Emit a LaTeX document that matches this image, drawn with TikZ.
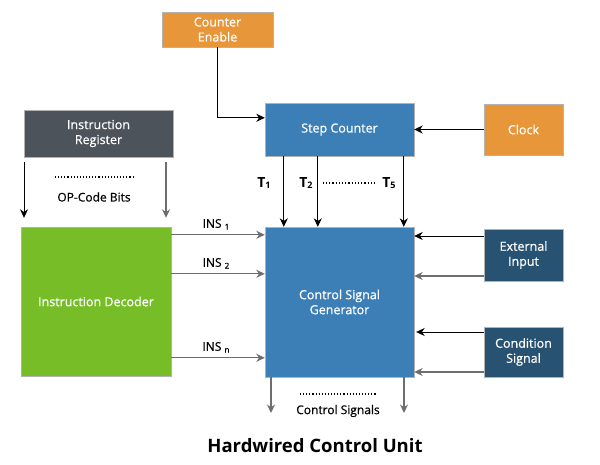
\documentclass[tikz,border=0pt]{standalone}
\usepackage{fontspec}
\setmainfont{Open Sans}
\newfontfamily\semisans[FakeBold=0.6]{Open Sans}
\usepackage{tikz}
\usetikzlibrary{arrows.meta,positioning,calc}

\definecolor{orangebox}{HTML}{E8963A}
\definecolor{bluebox}{HTML}{3B7FB6}
\definecolor{greybox}{HTML}{4C535B}
\definecolor{greenbox}{HTML}{76BD28}
\definecolor{navybox}{HTML}{285271}
\definecolor{wiregrey}{HTML}{6E6E6E}

\newcommand{\tsig}[1]{T\raisebox{-0.5pt}{\fontsize{9}{10}\selectfont #1}}

\tikzset{
    blockbox/.style={draw=white!70!black, line width=0.4pt, inner sep=0pt, text=white, align=center, font=\semisans\fontsize{12.5}{15}\selectfont},
    sig/.style={-{Stealth[length=8.5pt,width=8pt]}, line width=0.8pt, black},
    sigg/.style={sig, wiregrey, line width=1.2pt},
    lbl/.style={font=\semisans\fontsize{12}{14}\selectfont, inner sep=0pt},
    tlbl/.style={font=\bfseries\fontsize{14}{16}\selectfont, inner sep=0pt},
}

\begin{document}
\begin{tikzpicture}[x=1pt, y=-1pt]
    \useasboundingbox (0,0) rectangle (600,465);

    \node[blockbox, fill=orangebox, minimum width=111pt, minimum height=35pt] (enable) at (217.5, 29.5) {Counter\\Enable};
    \node[blockbox, fill=bluebox, minimum width=149pt, minimum height=53pt] (stepc) at (339.5, 129.5) {Step Counter};
    \node[blockbox, fill=orangebox, minimum width=79pt, minimum height=51pt] (clock) at (523.5, 129.5) {Clock};
    \node[blockbox, fill=greybox, minimum width=149pt, minimum height=47pt] (ireg) at (98.5, 133.5) {Instruction\\Register};
    \node[blockbox, fill=greenbox, minimum width=150pt, minimum height=149pt] (idec) at (96, 301.5) {Instruction Decoder};
    \node[blockbox, fill=bluebox, minimum width=149pt, minimum height=150pt] (csgen) at (339.5, 302) {Control Signal\\Generator};
    \node[blockbox, fill=navybox, minimum width=79pt, minimum height=52pt] (extin) at (523.5, 255) {External\\Input};
    \node[blockbox, fill=navybox, minimum width=79pt, minimum height=50pt] (condsig) at (523.5, 352) {Condition\\Signal};

    % step counter inputs
    \draw[sig] (enable.south) |- ([yshift=-15pt]stepc.north west);
    \draw[sig] (clock.west) -- (stepc.east);

    % timing signals
    \foreach \dx in {19, 53, 139}
        \draw[sig] ([xshift=\dx pt]stepc.south west) -- ([xshift=\dx pt]csgen.north west);
    \node[tlbl] (t1) at (264, 183) {\tsig{1}};
    \node[tlbl] (t2) at (306, 183) {\tsig{2}};
    \node[tlbl] (t5) at (389, 183) {\tsig{5}};
    \draw[dotted, line width=1.2pt] ([xshift=10pt]t2.east) -- ([xshift=-8pt]t5.west);

    % op-code bits
    \coordinate (irl) at (24, 162);
    \coordinate (irr) at (166, 162);
    \draw[sig] (irl) -- ([yshift=9pt]irl |- idec.north);
    \draw[sigg] (irr) -- ([yshift=9pt]irr |- idec.north);
    \draw[dotted, line width=1.1pt] (55, 177) -- (133, 177);
    \node[lbl] (opbits) at (94, 197) {OP-Code Bits};

    % decoder outputs
    \foreach \dy/\sub in {8/1, 47/2, 131/n} {
        \draw[sigg] ([yshift=-\dy pt]idec.north east) -- ([yshift=-\dy pt]csgen.north west);
        \node[lbl, anchor=south] at ([xshift=45pt, yshift=-\dy pt + 5pt]idec.north east) {INS \textsubscript{\sub}};
    }

    % external and condition inputs
    \draw[sig] ([yshift=19pt]extin.west) -- ([yshift=19pt]extin.west -| csgen.east);
    \draw[sigg] ([yshift=-21pt]extin.west) -- ([yshift=-21pt]extin.west -| csgen.east);
    \draw[sig] ([yshift=20pt]condsig.west) -- ([yshift=20pt, xshift=2pt]condsig.west -| csgen.east);
    \draw[sigg] ([yshift=-20pt]condsig.west) -- ([yshift=-20pt]condsig.west -| csgen.east);

    % control signals out
    \coordinate (outl) at (271, 413);
    \coordinate (outr) at (404, 413);
    \draw[sigg] (outl |- csgen.south) -- (outl);
    \draw[sigg] (outr |- csgen.south) -- (outr);
    \draw[dotted, line width=1.1pt] (300, 394) -- (377, 394);
    \node[lbl] (ctrl) at (338, 411) {Control Signals};

    \node[font=\bfseries\fontsize{18.5}{22}\selectfont] (title) at (315, 446) {Hardwired Control Unit};
\end{tikzpicture}
\end{document}
